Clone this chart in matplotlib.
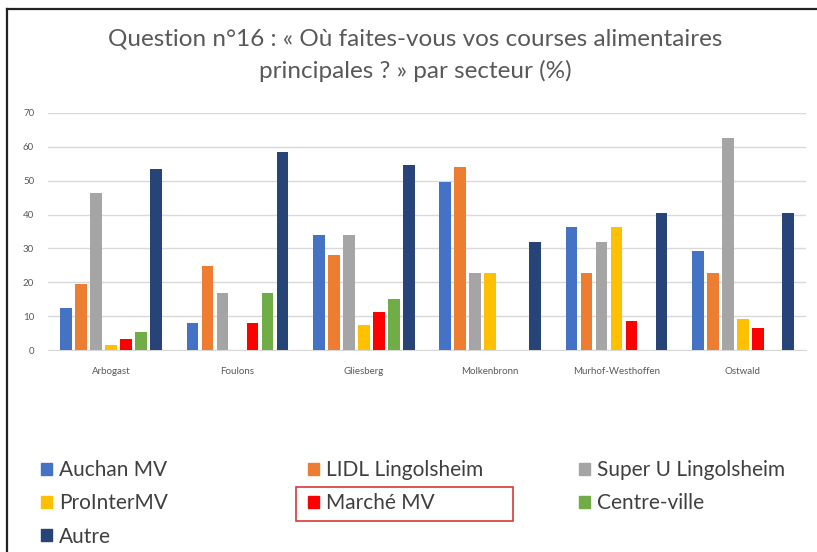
import matplotlib
matplotlib.use('Agg')
import matplotlib.pyplot as plt
from matplotlib.patches import Rectangle, Patch
from matplotlib.lines import Line2D
import numpy as np

plt.rcParams['font.family'] = ['Lato', 'DejaVu Sans']

sectors = ['Arbogast', 'Foulons', 'Gliesberg', 'Molkenbronn', 'Murhof-Westhoffen', 'Ostwald']
series_names = ['Auchan MV', 'LIDL Lingolsheim', 'Super U Lingolsheim', 'ProInterMV',
                'Marché MV', 'Centre-ville', 'Autre']
colors = ['#4472C4', '#ED7D31', '#A5A5A5', '#FFC000', '#FF0000', '#70AD47', '#264478']

auchan = [12.4, 8.1, 34.0, 49.7, 36.2, 29.1]
lidl = [19.6, 24.9, 28.1, 54.0, 22.7, 22.7]
superu = [46.4, 16.7, 34.0, 22.7, 31.9, 62.5]
prointer = [1.6, 0, 7.5, 22.7, 36.2, 9.1]
marche = [3.3, 8.1, 11.3, 0, 8.7, 6.5]
centre = [5.4, 16.7, 15.1, 0, 0, 0]
autre = [53.5, 58.4, 54.6, 31.9, 40.4, 40.4]
values = [auchan, lidl, superu, prointer, marche, centre, autre]

fig = plt.figure(figsize=(8.17, 5.52), dpi=100)
ax = fig.add_axes([48 / 817, 1 - 350 / 552, 758 / 817, 237 / 552])

x = np.arange(len(sectors))
step = 0.119
width = 0.092
for i, (vals, col) in enumerate(zip(values, colors)):
    ax.bar(x + (i - 3) * step, vals, width, color=col, linewidth=0, zorder=3)

ax.set_xlim(-0.5, len(sectors) - 0.5)
ax.set_ylim(0, 70)
ax.set_yticks(range(0, 71, 10))
ax.set_xticks(x)
ax.set_xticklabels(sectors)
ax.tick_params(axis='both', length=0, labelsize=7, labelcolor='#595959')
ax.tick_params(axis='x', pad=12)
ax.tick_params(axis='y', pad=10)
ax.grid(axis='y', color='#d9d9d9', linewidth=1, zorder=0)
for s in ['top', 'right', 'left']:
    ax.spines[s].set_visible(False)
ax.spines['bottom'].set_color('#d9d9d9')

fig.text(0.508, 1 - 55 / 552, 'Question n°16 : « Où faites-vous vos courses alimentaires\nprincipales ? » par secteur (%)',
         ha='center', va='center', fontsize=17.5, color='#595959', linespacing=1.58)

# legend, one column at a time, filled row by row
col_x = [33 / 817, 300 / 817, 571 / 817]
for c in range(3):
    idx = list(range(c, len(series_names), 3))
    handles = [Patch(color=colors[k]) for k in idx]
    labels = [series_names[k] for k in idx]
    fig.legend(handles, labels, loc='upper left', bbox_to_anchor=(col_x[c], 1 - 452 / 552),
               frameon=False, fontsize=15, handlelength=0.5, handleheight=0.5,
               handletextpad=0.35, labelspacing=0.63, labelcolor='#404040', borderaxespad=0)

fig.add_artist(Rectangle((296 / 817, 1 - 521 / 552), 217 / 817, 34 / 552, fill=False,
                         edgecolor='#d83a3a', linewidth=1.2, transform=fig.transFigure))

fig.add_artist(Line2D([7 / 817, 1], [1 - 9 / 552, 1 - 9 / 552], color='#222222', linewidth=1.6))
fig.add_artist(Line2D([7 / 817, 7 / 817], [0, 1 - 9 / 552], color='#222222', linewidth=1.6))

fig.savefig('out.png', dpi=100)
